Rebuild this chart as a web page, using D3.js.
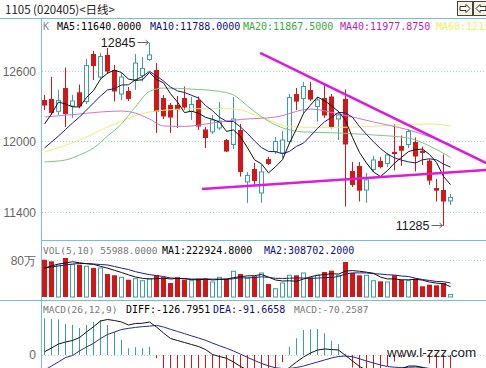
<!DOCTYPE html>
<html>
<head>
<meta charset="utf-8">
<script src="https://cdn.jsdelivr.net/npm/d3@7"></script>
<style>
  body { margin: 0; background: #fff; }
  svg { display: block; }
</style>
</head>
<body>
<svg id="chart" width="486" height="368"></svg>
<script>
// daily candles
const opens  = [12357,12366,12261,12459,12306,12423,12344,12749,12553,12741,12613,12408,12434,12528,12566,12702,12613,12374,12315,12315,
                12374,12259,12357,12106,12085,12119,12016,11978,12102,11659,11769,11565,11854,11918,11906,12004,12408,12370,12442,12302,
                12374,12387,12195,12366,11752,11795,11590,11765,11837,11816,11914,11965,11978,11999,11925,11840,11607,11590,11497];
const highs  = [12400,12553,12442,12634,12400,12489,12706,12777,12758,12800,12655,12587,12468,12749,12724,12845,12672,12400,12332,12391,
                12472,12383,12387,12127,12230,12340,12025,12383,12153,11744,11820,11803,11871,12042,12093,12408,12459,12511,12511,12383,
                12485,12408,12264,12447,11829,11829,11735,11880,11871,11906,12149,12055,12110,12038,11961,11855,11684,11893,11556];
const lows   = [12272,12230,12230,12127,12204,12286,12323,12528,12536,12579,12344,12357,12349,12442,12515,12690,12076,12195,12076,12119,
                12272,12187,12102,11948,12068,12102,11914,11940,11705,11480,11625,11480,11803,11897,11863,11982,12272,12246,12349,12174,
                12204,12114,12016,11450,11616,11492,11480,11744,11774,11786,11757,11795,11948,11748,11803,11633,11492,11285,11463];
const closes = [12310,12246,12353,12238,12349,12302,12651,12647,12728,12600,12430,12553,12366,12672,12626,12741,12259,12217,12208,12272,
                12293,12319,12131,12033,12187,12178,11918,12195,11744,11714,11667,11744,11812,12004,12016,12378,12344,12472,12361,12357,
                12225,12123,12229,11978,11633,11584,11676,11846,11786,11889,11897,11925,12089,11876,11906,11670,11584,11492,11527];
const vols   = [817000,782000,701000,855000,708000,708000,673000,636000,636000,504000,476000,432000,379000,401000,357000,401000,476000,432000,307000,432000,
                379000,357000,401000,401000,329000,432000,401000,563000,504000,416000,454000,526000,285000,182000,307000,476000,476000,526000,432000,476000,
                548000,576000,476000,767000,526000,476000,476000,357000,344000,329000,476000,379000,357000,401000,235000,270000,256000,307000,55988];

// moving averages: first values come from days before the window, so they are read
const ma5Head  = [12153, 12238, 12340, 12323];
const ma10Head = [11948, 11999, 12050, 12106, 12161, 12212, 12272, 12332, 12391];
const ma20Pts = [[0,11829],[3,11846],[5,11889],[7,11948],[9,12050],[11,12153],[13,12300],[15,12430],[17,12459],[21,12450],[25,12430],
                 [27,12400],[29,12306],[31,12215],[33,12145],[37,12085],[42,12076],[47,12059],[52,12033],[55,11965],[58,11867.5]];
const ma40Pts = [[0,12212],[5,12238],[8,12255],[11,12263],[13,12245],[15,12195],[17,12136],[20,12132],[24,12161],[28,12191],[33,12212],
                 [38,12280],[42,12238],[47,12170],[52,12102],[58,11977.9]];
const ma60Pts = [[0,11914],[5,12016],[10,12153],[15,12255],[20,12280],[25,12285],[28,12272],[30,12230],[32,12187],[35,12130],[40,12123],
                 [45,12127],[50,12144],[55,12153],[58,12136]];
const volMa5Head  = [636000, 680000, 723000, 745000];
const volMa10Head = [636000, 658000, 680000, 701000, 723000, 734000, 734000, 723000, 712000];

// MACD panel
const diff = [13,28,44,52,58,70,92,113,136,142,138,132,120,126,127,132,112,88,66,58,50,42,34,22,2,-6,-13,-28,-46,-60,
              -72,-80,-84,-80,-68,-50,-28,-8,8,20,24,22,20,-2,-24,-46,-60,-66,-72,-68,-62,-56,-44,-44,-50,-70,-95,-115,-126.7951];
const dea  = [-60.5,-44,-27.5,-10,-2,16,32,46.5,66,82,92,102,106.5,110.5,113.5,115.5,118.5,112,103,94,85.5,76.5,68,59,47.5,37,27,16,3.5,-9.5,
              -22,-33.5,-43.5,-51,-54,-54,-50,-44,-36,-28,-20,-12,-6,-4,-7,-15,-24,-32,-40,-46,-49,-50,-49,-48,-49,-54,-64,-78,-91.6658];
const macd = [147,144,143,124,120,108,120,133,140,120,92,60,27,31,27,33,-13,-55,-74,-72,-71,-69,-68,-74,-91,-86,-80,-88,-99,-101,
              -100,-93,-81,-58,-28,33,67,100,103,104,87,57,44,5,-50,-63,-72,-68,-64,-44,-26,-11,10,8,-3,-34,-63,-75,-70.2587];

// hand-drawn trend lines [day index, price]
const trendLines = [
  [[30.8, 12758], [63.1, 11820]],
  [[22.5, 11599], [63.1, 11761]]
];

const priceTicks = [11400, 12000, 12600];
const volTicks = [800000];
const macdTicks = [0];

const red = "#d11818", teal = "#3aa0a0", frame = "#74c2cc", grid = "#a6d6dc";
const mono = "'DejaVu Sans Mono', 'Liberation Mono', monospace";
const sans = "'Liberation Sans', Arial, sans-serif";

const svg = d3.select("#chart");
const idx = d3.range(closes.length);

const x  = d3.scaleLinear().domain([0, 58]).range([44.5, 450.5]);
const yP = d3.scaleLinear().domain([11164, 13056]).range([240, 18]);
const yV = d3.scaleLinear().domain([0, 800000]).range([297, 260.5]);
const yM = d3.scaleLinear().domain([-52, 220]).range([368, 300]);

const defs = svg.append("defs");
function addClip(id, x0, y0, w, h) {
  defs.append("clipPath").attr("id", id)
    .append("rect").attr("x", x0).attr("y", y0).attr("width", w).attr("height", h);
}
addClip("clipPrice", 42, 19, 444, 221);
addClip("clipVol", 42, 241, 444, 59);
addClip("clipMacd", 42, 301, 444, 67);

const crisp = v => Math.floor(v) + 0.5;

// title + buttons
svg.append("text").attr("x", 5).attr("y", 13.5)
  .attr("font-family", "'Noto Sans CJK SC', sans-serif").attr("font-size", 11.5).attr("fill", "#222")
  .text("1105 (020405)<日线>");

[[457.5, -1], [473.5, 1]].forEach(([bx, dir]) => {
  svg.append("rect").attr("x", bx).attr("y", 1.5).attr("width", 15).attr("height", 14)
    .attr("fill", "#f6f2dc").attr("stroke", "#444");
  const cx = bx + 7.5, cy = 8.5;
  const pts = [[-5,0],[-1,-4],[-1,-2],[5,-2],[5,2],[-1,2],[-1,4]].map(p => [cx + dir * p[0], cy + p[1]]);
  svg.append("path").attr("d", d3.line()(pts) + "Z").attr("fill", "#fff").attr("stroke", "#333").attr("stroke-width", 1);
});

// gridlines
function gridLines(scale, ticks) {
  ticks.forEach(t => {
    svg.append("line").attr("x1", 42).attr("x2", 486).attr("y1", crisp(scale(t))).attr("y2", crisp(scale(t)))
      .attr("stroke", grid).attr("stroke-dasharray", "1,2");
  });
}
gridLines(yP, priceTicks);
gridLines(yV, volTicks);
gridLines(yM, macdTicks);

// frame lines
svg.append("line").attr("x1", 0).attr("x2", 486).attr("y1", 18.5).attr("y2", 18.5).attr("stroke", frame);
svg.append("line").attr("x1", 41.5).attr("x2", 41.5).attr("y1", 18).attr("y2", 368).attr("stroke", frame);
svg.append("line").attr("x1", 42).attr("x2", 486).attr("y1", 240.5).attr("y2", 240.5).attr("stroke", frame);
svg.append("line").attr("x1", 0).attr("x2", 486).attr("y1", 300.5).attr("y2", 300.5).attr("stroke", frame);

// axis labels
function leftAxis(scale, ticks, fmt) {
  const g = svg.append("g").attr("transform", "translate(42,0)")
    .call(d3.axisLeft(scale).tickValues(ticks).tickSize(0).tickPadding(6).tickFormat(fmt));
  g.select(".domain").remove();
  g.selectAll("text").attr("font-family", sans).attr("font-size", 12).attr("fill", "#666");
}
leftAxis(yP, priceTicks, d3.format("d"));
leftAxis(yV, volTicks, d => (d / 10000) + "万");
leftAxis(yM, macdTicks, d3.format("d"));

// ---- price panel ----
const gP = svg.append("g").attr("clip-path", "url(#clipPrice)");
const up = i => closes[i] >= opens[i];

gP.selectAll(".wick").data(idx).join("line")
  .attr("x1", i => x(i)).attr("x2", i => x(i))
  .attr("y1", i => yP(highs[i])).attr("y2", i => yP(lows[i]))
  .attr("stroke", i => up(i) ? teal : red);

gP.selectAll(".body").data(idx).join("rect")
  .attr("x", i => up(i) ? x(i) - 2 : x(i) - 2.5)
  .attr("width", i => up(i) ? 4 : 5)
  .attr("y", i => yP(Math.max(opens[i], closes[i])))
  .attr("height", i => Math.max(1, Math.abs(yP(opens[i]) - yP(closes[i]))))
  .attr("fill", i => up(i) ? "#fff" : red)
  .attr("stroke", i => up(i) ? teal : "none");

const ma5 = idx.map(i => [i, i < 4 ? ma5Head[i] : d3.mean(closes.slice(i - 4, i + 1))]);
const ma10 = idx.map(i => [i, i < 9 ? ma10Head[i] : d3.mean(closes.slice(i - 9, i + 1))]);
const lineP = d3.line().x(d => x(d[0])).y(d => yP(d[1]));
const smoothP = d3.line().x(d => x(d[0])).y(d => yP(d[1])).curve(d3.curveMonotoneX);

[[ma60Pts, "#ecec7a", smoothP], [ma40Pts, "#c878cc", smoothP], [ma20Pts, "#80c480", smoothP],
 [ma10, "#1c1c7c", lineP], [ma5, "#111", lineP]].forEach(([pts, col, gen]) => {
  gP.append("path").attr("d", gen(pts)).attr("fill", "none").attr("stroke", col).attr("stroke-width", 1);
});

trendLines.forEach(seg => {
  gP.append("path").attr("d", lineP(seg)).attr("stroke", "#d81ed8").attr("stroke-width", 2.5).attr("fill", "none");
});

// high / low markers
function marker(i, value) {
  const tx = x(i), ty = yP(value);
  svg.append("text").attr("x", tx - 14).attr("y", ty + 4.5).attr("text-anchor", "end")
    .attr("font-family", sans).attr("font-size", 12.5).attr("fill", "#1a1a1a").text(value);
  svg.append("line").attr("x1", tx - 12).attr("x2", tx - 1).attr("y1", crisp(ty)).attr("y2", crisp(ty))
    .attr("stroke", "#666");
  svg.append("path").attr("d", `M${tx - 4},${crisp(ty) - 2.5}L${tx - 1},${crisp(ty)}L${tx - 4},${crisp(ty) + 2.5}`)
    .attr("fill", "none").attr("stroke", "#666");
}
const hiVal = d3.max(highs), loVal = d3.min(lows);
marker(highs.indexOf(hiVal), hiVal);
marker(lows.indexOf(loVal), loVal);

// ---- volume panel ----
const gV = svg.append("g").attr("clip-path", "url(#clipVol)");
gV.selectAll("rect").data(idx).join("rect")
  .attr("x", i => up(i) ? x(i) - 2 : x(i) - 2.5)
  .attr("width", i => up(i) ? 4 : 5)
  .attr("y", i => yV(vols[i]))
  .attr("height", i => yV(0) - yV(vols[i]))
  .attr("fill", i => up(i) ? "#fff" : red)
  .attr("stroke", i => up(i) ? teal : "none");

const volMa5 = idx.map(i => [i, i < 4 ? volMa5Head[i] : d3.mean(vols.slice(i - 4, i + 1))]);
const volMa10 = idx.map(i => [i, i < 9 ? volMa10Head[i] : d3.mean(vols.slice(i - 9, i + 1))]);
const lineV = d3.line().x(d => x(d[0])).y(d => yV(d[1]));
gV.append("path").attr("d", lineV(volMa10)).attr("fill", "none").attr("stroke", "#1c1c7c");
gV.append("path").attr("d", lineV(volMa5)).attr("fill", "none").attr("stroke", "#111");

// ---- MACD panel ----
const gM = svg.append("g").attr("clip-path", "url(#clipMacd)");
gM.selectAll("line").data(idx).join("line")
  .attr("x1", i => x(i)).attr("x2", i => x(i))
  .attr("y1", yM(0)).attr("y2", i => yM(macd[i]))
  .attr("stroke", i => macd[i] >= 0 ? teal : red);
const lineM = d3.line().x((d, i) => x(i)).y(d => yM(d));
gM.append("path").attr("d", lineM(dea)).attr("fill", "none").attr("stroke", "#2a2a8a");
gM.append("path").attr("d", lineM(diff)).attr("fill", "none").attr("stroke", "#111");

// ---- legends ----
function legend(y, items) {
  const t = svg.append("text").attr("y", y).attr("font-family", mono).attr("font-size", 10);
  items.forEach(([tx, str, col, size]) => t.append("tspan").attr("x", tx).attr("fill", col)
    .attr("font-size", size || 10).text(str));
}
const last = closes.length - 1;
legend(29.5, [
  [43, "K", "#888"],
  [57, "MA5:11640.0000", "#000"],
  [150, "MA10:11788.0000", "#10107a"],
  [243, "MA20:11867.5000", "#3aa83a"],
  [340, "MA40:11977.8750", "#b81eb8"],
  [436, "MA60:12136.0000", "#f2ee6a"]
]);
legend(253.5, [
  [43, "VOL(5,10) " + vols[last].toFixed(4), "#777", 9.5],
  [162, "MA1:222924.8000", "#000"],
  [264, "MA2:308702.2000", "#10107a"]
]);
legend(312.5, [
  [43, "MACD(26,12,9)", "#777", 9.5],
  [126, "DIFF:" + diff[last].toFixed(4), "#000"],
  [213, "DEA:" + dea[last].toFixed(4), "#10107a"],
  [294, "MACD:" + macd[last].toFixed(4), "#777", 9.5]
]);

// watermark
svg.append("text").attr("x", 387).attr("y", 357).attr("font-family", sans).attr("font-size", 13.5)
  .attr("fill", "#222").text("www.l-zzz.com");
</script>
</body>
</html>
